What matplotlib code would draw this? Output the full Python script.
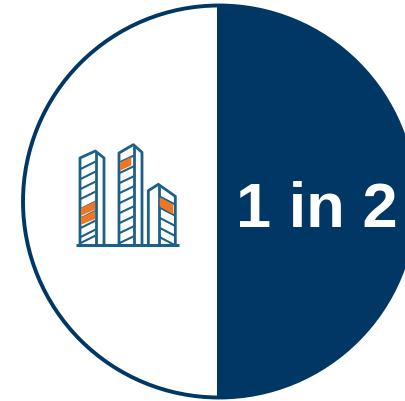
import matplotlib
matplotlib.use('Agg')
import matplotlib.pyplot as plt
from matplotlib.patches import Polygon, Circle

# Share shown by the filled half of the circle
shares = [1, 1]
share_label = '1 in 2'

NAVY = '#003764'
ICON_BLUE = '#1c6088'
ORANGE = '#ee7623'

fig = plt.figure(figsize=(4.05, 4.02), dpi=100, facecolor='white')
ax = fig.add_axes([0, 0, 1, 1])

# Right half filled, left half white
ax.pie(shares, colors=[NAVY, 'white'], startangle=90, counterclock=False,
       center=(217, 202.5), radius=197, frame=False)
ax.add_patch(Circle((219, 202.5), 196, fill=False, ec=NAVY, lw=2.8))

ax.set_xlim(0, 405)
ax.set_ylim(402, 0)
ax.set_aspect('equal')
ax.axis('off')

ax.text(316.5, 227, share_label, color='white', fontsize=45.5, fontweight='bold',
        family='Liberation Sans', ha='center', va='baseline')


# Icon is sketched in a 3x grid, this converts it to axes units
def pt(x, y):
    return (70 + x / 3, 140 + y / 3)


def line(points, lw=2.0):
    xs, ys = zip(*[pt(x, y) for x, y in points])
    ax.plot(xs, ys, color=ICON_BLUE, lw=lw, solid_joinstyle='round', solid_capstyle='butt')


def patch(points):
    ax.add_patch(Polygon([pt(x, y) for x, y in points], closed=True, fc=ORANGE, ec='none', zorder=3))


# left tower
line([(30, 318), (30, 57), (76, 36), (102, 57), (102, 318)])
line([(78, 38), (78, 318)])
for y in [68, 98, 128, 158, 188, 216, 245, 272]:
    line([(32, y + 22), (76, y)], lw=1.5)
line([(32, 312), (76, 290)], lw=1.5)
patch([(33, 207), (75, 187), (75, 212), (33, 230)])
patch([(33, 235), (75, 216), (75, 240), (33, 257)])

# middle tower
line([(147, 318), (147, 42), (190, 17), (216, 40), (216, 318)])
line([(193, 20), (193, 318)])
for y in [50, 82, 112, 142, 172, 202, 232, 262, 292]:
    line([(149, y + 20), (191, y)], lw=1.5)
patch([(150, 70), (184, 54), (184, 79), (150, 95)])

# right tower
line([(235, 318), (235, 155), (265, 136), (316, 172), (316, 318)])
line([(266, 138), (266, 318)])
for y in [172, 205, 236, 266, 294]:
    line([(268, y), (314, y + 24)], lw=1.5)
patch([(269, 174), (310, 198), (310, 226), (269, 202)])

# ground line
line([(17, 319), (326, 319)], lw=2.2)

fig.savefig('out.png', dpi=100, facecolor='white')
